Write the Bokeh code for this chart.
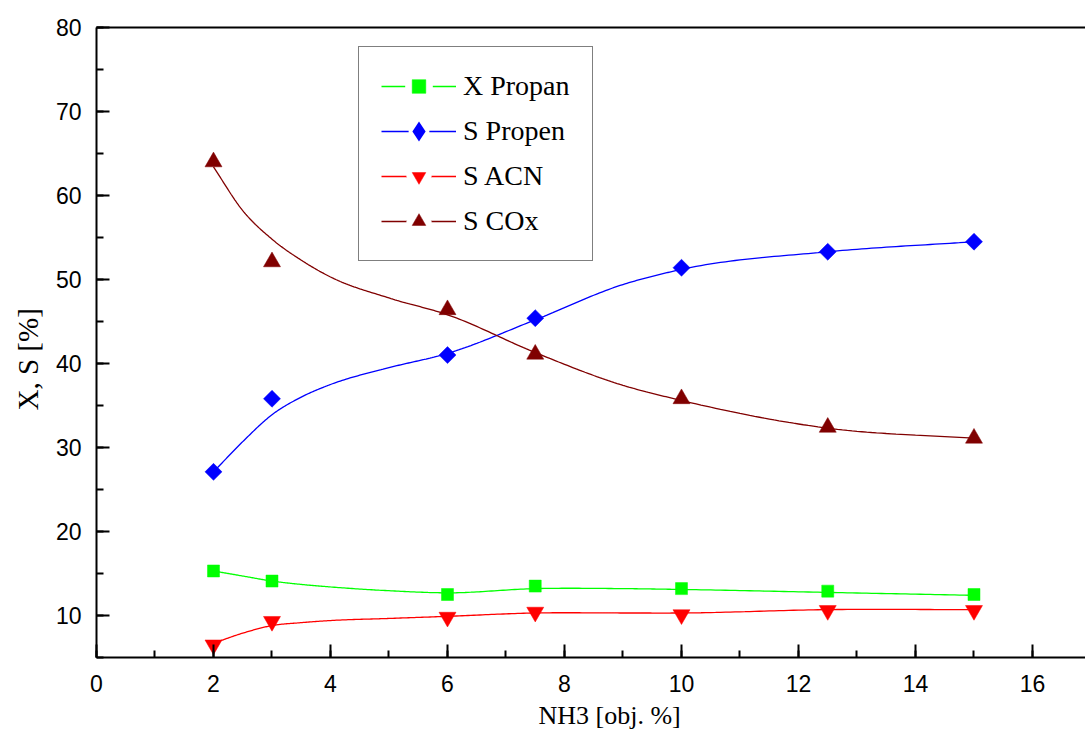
import numpy as np
from bokeh.plotting import figure
from bokeh.models import (LinearAxis, SingleIntervalTicker, FixedTicker, Range1d, Legend,
                          LegendItem, Title, ColumnDataSource)
from bokeh.embed import file_html
from bokeh.resources import INLINE

# ---- data ----
nh3 = [2, 3, 6, 7.5, 10, 12.5, 15]
x_propan = [15.3, 14.1, 12.5, 13.5, 13.2, 12.9, 12.5]
s_propen = [27.1, 35.8, 41.0, 45.4, 51.4, 53.3, 54.5]
s_acn = [6.5, 9.3, 9.8, 10.4, 10.1, 10.6, 10.6]
s_cox = [64.0, 52.1, 46.4, 41.1, 35.8, 32.4, 31.1]

# fitted curves as drawn in the reference (read at these x values)
fit_x = [2, 2.5, 3, 3.5, 4, 5, 6, 7.5, 9, 10, 12.5, 15]
fit_propan = [15.3, 14.7, 14.1, 13.7, 13.4, 12.95, 12.7, 13.2, 13.2, 13.1, 12.75, 12.4]
fit_propen = [27.1, 30.7, 33.9, 36.0, 37.5, 39.5, 41.2, 45.2, 49.4, 51.2, 53.3, 54.5]
fit_acn = [6.7, 7.9, 8.8, 9.15, 9.4, 9.65, 9.9, 10.3, 10.3, 10.3, 10.7, 10.7]
fit_cox = [63.4, 58.2, 54.8, 52.3, 50.3, 47.8, 45.8, 41.3, 37.4, 35.6, 32.3, 31.1]

labels = ["X Propan", "S Propen", "S ACN", "S COx"]
x_label = "NH3 [obj. %]"
y_label = "X, S [%]"


def smooth(xs, ys, n=30):
    """Cubic Hermite rendering of the read curve for a smooth line."""
    xs = np.asarray(xs, float)
    ys = np.asarray(ys, float)
    m = np.empty_like(ys)
    m[0] = (ys[1] - ys[0]) / (xs[1] - xs[0])
    m[-1] = (ys[-1] - ys[-2]) / (xs[-1] - xs[-2])
    for i in range(1, len(xs) - 1):
        h0 = xs[i] - xs[i - 1]
        h1 = xs[i + 1] - xs[i]
        d0 = (ys[i] - ys[i - 1]) / h0
        d1 = (ys[i + 1] - ys[i]) / h1
        m[i] = (h1 * d0 + h0 * d1) / (h0 + h1)
    ox, oy = [], []
    for i in range(len(xs) - 1):
        h = xs[i + 1] - xs[i]
        t = np.linspace(0, 1, n, endpoint=False)
        h00 = 2 * t**3 - 3 * t**2 + 1
        h10 = t**3 - 2 * t**2 + t
        h01 = -2 * t**3 + 3 * t**2
        h11 = t**3 - t**2
        ox.extend(xs[i] + t * h)
        oy.extend(h00 * ys[i] + h10 * h * m[i] + h01 * ys[i + 1] + h11 * h * m[i + 1])
    ox.append(xs[-1])
    oy.append(ys[-1])
    return ox, oy


p = figure(width=1085, height=737, x_range=Range1d(0, 16.906), y_range=Range1d(5, 80),
           output_backend="svg", toolbar_location=None,
           x_axis_location=None, y_axis_location=None,
           min_border_left=96, min_border_right=0, min_border_top=27, min_border_bottom=80)
p.outline_line_color = None
p.grid.visible = False
p.background_fill_color = "white"
p.border_fill_color = "white"

axis_style = dict(axis_line_width=2, axis_line_color="black",
                  major_tick_line_width=2, minor_tick_line_width=2,
                  major_tick_line_color="black", minor_tick_line_color="black",
                  major_tick_in=13, major_tick_out=0, minor_tick_in=7, minor_tick_out=0,
                  major_label_text_font="Liberation Sans",
                  major_label_text_font_size="23px",
                  major_label_text_color="black")

xaxis = LinearAxis(ticker=SingleIntervalTicker(interval=2, num_minor_ticks=2),
                   major_label_standoff=17, **axis_style)
yaxis = LinearAxis(ticker=SingleIntervalTicker(interval=10, num_minor_ticks=2),
                   major_label_standoff=15, **axis_style)
top = LinearAxis(ticker=FixedTicker(ticks=[]), axis_line_width=2, axis_line_color="black",
                 major_tick_in=0, major_tick_out=0, minor_tick_in=0, minor_tick_out=0)
p.add_layout(xaxis, "below")
p.add_layout(yaxis, "left")
p.add_layout(top, "above")

p.add_layout(Title(text=x_label, align="left", offset=442, standoff=9,
                   text_font="Liberation Serif", text_font_size="26px",
                   text_font_style="normal", text_color="black"), "below")
p.add_layout(Title(text=y_label, align="left", offset=247, standoff=17,
                   text_font="Liberation Serif", text_font_size="29px",
                   text_font_style="normal", text_color="black"), "left")

colors = ["#00FF00", "#0000FF", "#FF0000", "#800000"]
markers = ["square", "square", "inverted_triangle", "triangle"]
legend_markers = ["square", "diamond", "inverted_triangle", "triangle"]
angles = [0, np.pi / 4, 0, 0]
sizes = [12, 12, 17, 17]
series = [x_propan, s_propen, s_acn, s_cox]
fits = [fit_propan, fit_propen, fit_acn, fit_cox]

items = []
for lab, c, mk, lmk, ang, sz, ys, fy in zip(labels, colors, markers, legend_markers,
                                              angles, sizes, series, fits):
    fx, fyy = smooth(fit_x, fy)
    p.line(fx, fyy, line_color=c, line_width=1.3)
    p.scatter(nh3, ys, marker=mk, size=sz, angle=ang, fill_color=c, line_color=c, line_width=0.5)
    # legend-only glyphs (not shown in the plot area)
    dummy = ColumnDataSource(dict(x=[np.nan], y=[np.nan]))
    lr = p.line("x", "y", source=dummy, line_color=c, line_width=1.3)
    gap = p.scatter("x", "y", source=dummy, marker=lmk, size=sz,
                    fill_color="white", line_color="white", line_width=14)
    mr = p.scatter("x", "y", source=dummy, marker=lmk, size=sz,
                   fill_color=c, line_color=c, line_join="miter",
                   line_width=3.5 if lmk == "diamond" else 0.5)
    items.append(LegendItem(label=lab, renderers=[lr, gap, mr]))

legend = Legend(items=items, location=(262, 396), glyph_width=75, glyph_height=34,
                label_height=34, spacing=11, padding=22, label_standoff=7, margin=0,
                label_text_font="Liberation Serif", label_text_font_size="28px",
                label_text_color="black",
                border_line_color="black", border_line_width=1.5,
                background_fill_color="white", background_fill_alpha=1)
p.add_layout(legend)

open("out.html", "w").write(file_html(p, INLINE))
